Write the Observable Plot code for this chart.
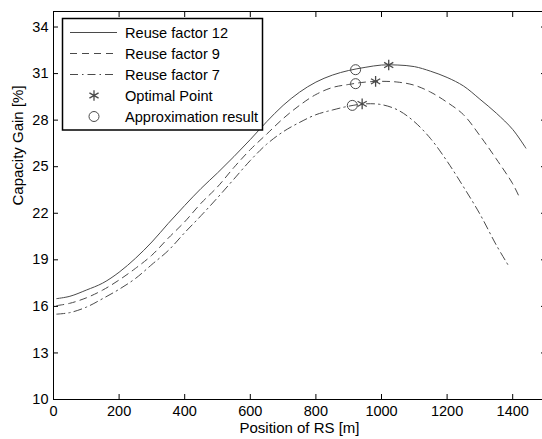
<!DOCTYPE html>
<html><head><meta charset="utf-8">
<script src="https://cdn.jsdelivr.net/npm/d3@7"></script>
<script src="https://cdn.jsdelivr.net/npm/@observablehq/plot@0.6"></script>
<style>
html,body{margin:0;padding:0;overflow:hidden;background:#fff}
#chart{width:546px;height:439px}
</style>
</head><body><div id="chart"></div>
<script>
const pos12 = [10,50,100,150,200,250,300,350,400,450,500,550,600,650,700,750,800,850,900,950,1000,1050,1100,1150,1200,1250,1300,1350,1400,1440];
const gain12 = [16.5,16.65,17.05,17.5,18.2,19.1,20.15,21.35,22.5,23.6,24.6,25.65,26.75,27.9,28.95,29.8,30.45,30.9,31.2,31.4,31.55,31.55,31.45,31.15,30.75,30.2,29.35,28.45,27.4,26.2];
const pos9 = [10,50,100,150,200,250,300,350,400,450,500,550,600,650,700,750,800,850,900,950,1000,1050,1100,1150,1200,1250,1300,1350,1400,1420];
const gain9 = [16.05,16.2,16.55,17.05,17.7,18.45,19.3,20.4,21.45,22.65,23.7,24.95,26.1,27.1,28.1,28.95,29.65,30.1,30.3,30.45,30.5,30.45,30.25,29.8,29.15,28.35,27.0,25.5,23.9,23.05];
const pos7 = [10,50,100,150,200,250,300,350,400,450,500,550,600,650,700,750,800,850,900,950,1000,1050,1100,1150,1200,1250,1300,1350,1385];
const gain7 = [15.5,15.6,15.95,16.5,17.1,17.8,18.7,19.6,20.75,21.85,23.0,24.2,25.4,26.45,27.25,27.85,28.35,28.65,28.9,29.05,29.0,28.65,27.9,26.8,25.35,23.7,21.95,19.95,18.7];

const seriesNames = ["Reuse factor 12","Reuse factor 9","Reuse factor 7"];
const optimalX = [1022, 982, 941];
const optimalY = [31.55, 30.5, 29.05];
const approxX = [921, 921, 911];
const approxY = [31.25, 30.35, 28.95];
const legendLabels = ["Reuse factor 12","Reuse factor 9","Reuse factor 7","Optimal Point","Approximation result"];

const xTicks = [0,200,400,600,800,1000,1200,1400];
const yTicks = [10,13,16,19,22,25,28,31,34];
const xTitle = "Position of RS [m]";
const yTitle = "Capacity Gain [%]";

const toRows = (xs, ys, name) => xs.map((x, i) => ({x, y: ys[i], series: name}));
const rows12 = toRows(pos12, gain12, seriesNames[0]);
const rows9 = toRows(pos9, gain9, seriesNames[1]);
const rows7 = toRows(pos7, gain7, seriesNames[2]);
const optimal = optimalX.map((x, i) => ({x, y: optimalY[i]}));
const approx = approxX.map((x, i) => ({x, y: approxY[i]}));

const lineColor = "#4a4a4a";
const font = "'Liberation Sans', Arial, Helvetica, sans-serif";
const fmt = d => String(d);

const plot = Plot.plot({
  width: 546, height: 439,
  marginLeft: 53, marginRight: 1, marginTop: 11, marginBottom: 40,
  style: {fontFamily: font, fontSize: "14px", color: "black", background: "white"},
  x: {domain: [0, 1500]},
  y: {domain: [10, 35]},
  marks: [
    Plot.line(rows12, {x: "x", y: "y", stroke: lineColor, strokeWidth: 1, curve: "catmull-rom"}),
    Plot.line(rows9, {x: "x", y: "y", stroke: lineColor, strokeWidth: 1, strokeDasharray: "7,5", curve: "catmull-rom"}),
    Plot.line(rows7, {x: "x", y: "y", stroke: lineColor, strokeWidth: 1, strokeDasharray: "8,4,1.5,4", curve: "catmull-rom"}),
    Plot.dot(approx, {x: "x", y: "y", r: 5, symbol: "circle", stroke: lineColor, fill: "none", strokeWidth: 1}),
    Plot.dot(optimal, {x: "x", y: "y", r: 5, symbol: "asterisk", stroke: lineColor, strokeWidth: 1.3}),
    Plot.frame({stroke: "black", strokeWidth: 1}),
    Plot.axisX(xTicks, {anchor: "bottom", tickSize: 0, tickPadding: 6, fontSize: 14.5, tickFormat: fmt, label: null}),
    Plot.axisY(yTicks, {anchor: "left", tickSize: 0, tickPadding: 5, fontSize: 14.5, tickFormat: fmt, label: null}),
    Plot.axisX(xTicks, {anchor: "bottom", tickSize: -5, tickFormat: () => "", label: null}),
    Plot.axisX(xTicks, {anchor: "top", tickSize: -5, tickFormat: () => "", label: null}),
    Plot.axisY(yTicks, {anchor: "left", tickSize: -5, tickFormat: () => "", label: null}),
    Plot.axisY(yTicks, {anchor: "right", tickSize: -5, tickFormat: () => "", label: null}),
    Plot.text([xTitle], {frameAnchor: "bottom", dy: 33, fontSize: 15, fill: "black"}),
    Plot.text([yTitle], {frameAnchor: "left", dx: -35, rotate: -90, fontSize: 15, fill: "black"})
  ]
});
document.getElementById("chart").appendChild(plot);

// Legend (MATLAB-style box in the upper-left corner)
const svg = d3.select(plot);
const lg = svg.append("g").attr("font-family", font).attr("font-size", 14.6).attr("text-anchor", "start");
lg.append("rect").attr("x", 62.5).attr("y", 18.5).attr("width", 200).attr("height", 111.5)
  .attr("fill", "white").attr("stroke", "black").attr("stroke-width", 1.5);
const rowY = i => 32.5 + i * 21;
const dashes = [null, "7,5", "8,4,1.5,4"];
dashes.forEach((d, i) => {
  const l = lg.append("line").attr("x1", 70).attr("x2", 117).attr("y1", rowY(i)).attr("y2", rowY(i))
    .attr("stroke", lineColor).attr("stroke-width", 1);
  if (d) l.attr("stroke-dasharray", d);
});
lg.append("path").attr("d", d3.symbol(d3.symbolAsterisk, Math.PI * 25)()).attr("transform", `translate(94,${rowY(3)})`)
  .attr("stroke", lineColor).attr("stroke-width", 1.3).attr("fill", "none");
lg.append("circle").attr("cx", 94).attr("cy", rowY(4)).attr("r", 5).attr("fill", "none").attr("stroke", lineColor);
legendLabels.forEach((t, i) => {
  lg.append("text").attr("x", 125).attr("y", rowY(i)).attr("dy", "0.35em").attr("text-anchor", "start").attr("fill", "black").text(t);
});
</script>
</body></html>
